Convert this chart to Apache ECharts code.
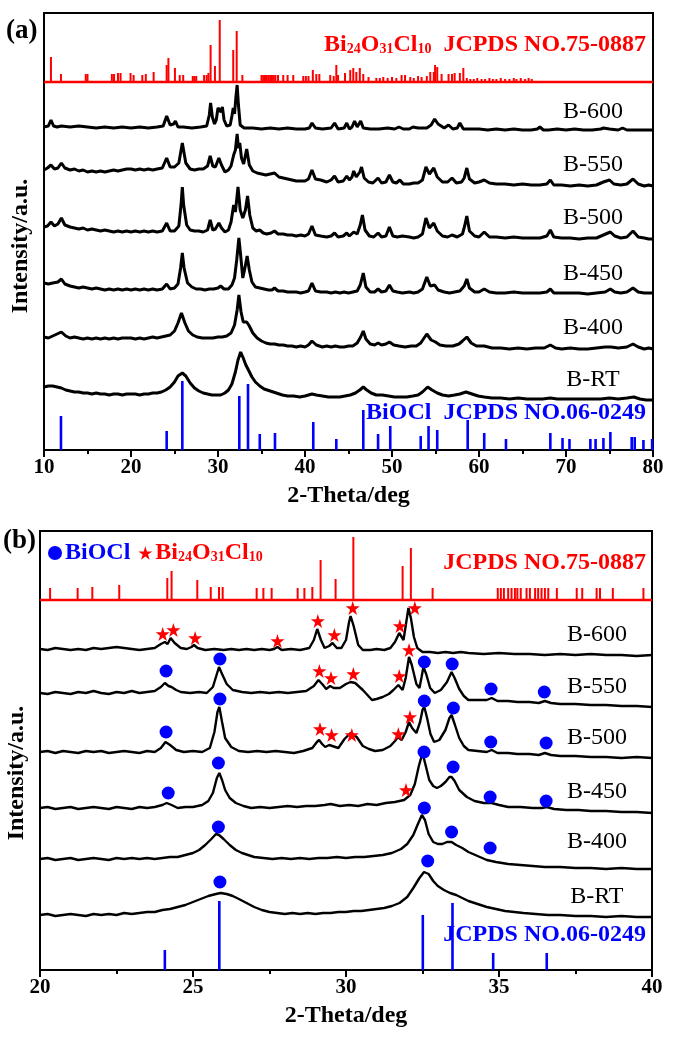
<!DOCTYPE html>
<html><head><meta charset="utf-8">
<script src="https://cdn.jsdelivr.net/npm/echarts@6/dist/echarts.min.js"></script>
<style>html,body{margin:0;padding:0;background:#fff}#c{width:675px;height:1039px}</style>
</head><body><div id="c"></div>
<script>
// ---------- Panel (a) : 2θ 10–80 ----------
const xTicksA = [10, 20, 30, 40, 50, 60, 70, 80];
const a600 = [[10,323],[10.5,324],[10.8,330],[11.1,324],[11.5,323],[12,324],[13,323],[14,324],[15,323],[16,322],[17,323],[18,322],[19,323],[20,322],[21,323],[22,322],[23,323],[23.7,324],[24.1,334],[24.5,325],[24.9,326],[25.1,329],[25.4,323],[26,323],[27,322],[28,323],[28.7,324],[29.0,335],[29.15,347],[29.35,333],[29.6,326],[29.8,330],[30.0,342],[30.2,343],[30.35,338],[30.5,343],[30.7,330],[31.0,324],[31.4,325],[31.6,334],[31.75,342],[31.9,336],[32.05,352],[32.2,365],[32.35,345],[32.55,325],[33,322],[34,322],[35,321],[36,322],[37,321],[38,322],[39,321],[40,321],[40.5,322],[40.8,327],[41.2,322],[42,321],[43,322],[43.4,327],[43.8,321],[44.5,322],[44.8,327],[45.1,321],[45.4,323],[45.7,329],[46.0,323],[46.4,329],[46.7,322],[47.5,321],[48.5,321],[49.5,322],[50.3,321],[50.8,323],[51.3,321],[52,321],[52.4,323],[53,322],[54,322],[54.5,325],[54.9,331],[55.3,326],[56,322],[56.5,325],[57,321],[57.5,322],[57.8,327],[58.2,321],[59,321],[60,321],[61,320],[62,321],[63,320],[64,321],[65,320],[66,320],[66.7,321],[67.0,323],[67.4,320],[68,320],[69,321],[70,320],[71,321],[72,320],[73,320],[74,321],[74.3,322],[75,321],[76,320],[76.5,322],[77,320],[78,320],[78.2,322],[78.6,320],[79,320],[80,320]];
const a550 = [[10,280],[10.4,282],[10.8,285],[11.2,281],[11.6,282],[12.0,287],[12.4,282],[13,280],[13.5,281],[14,279],[14.5,280],[15,278],[15.5,279],[16,278],[16.5,279],[17,278],[17.5,279],[18,280],[18.5,279],[19,280],[19.5,281],[20,281],[20.5,280],[21,281],[21.5,280],[22,281],[22.5,280],[23,281],[23.6,282],[24.1,292],[24.5,283],[25.0,283],[25.5,287],[25.9,307],[26.3,287],[26.8,281],[27.3,280],[27.8,281],[28.3,281],[28.8,284],[29.1,294],[29.4,284],[29.7,283],[30.1,292],[30.4,285],[30.8,278],[31.2,280],[31.5,284],[31.8,295],[32.0,300],[32.2,316],[32.35,302],[32.5,307],[32.7,292],[32.95,286],[33.3,301],[33.6,285],[34.0,279],[34.5,277],[35,276],[35.5,275],[36,276],[36.5,277],[37,273],[37.5,272],[38,271],[38.5,270],[39,269],[39.5,269],[40,269],[40.4,271],[40.8,280],[41.2,271],[41.8,270],[42.5,268],[43.0,270],[43.4,274],[43.8,268],[44.4,269],[44.8,274],[45.1,270],[45.4,273],[45.6,279],[45.9,273],[46.3,278],[46.5,283],[46.8,272],[47.3,268],[47.8,267],[48.4,272],[48.8,267],[49.3,268],[49.7,275],[50.1,268],[50.5,267],[50.9,270],[51.3,266],[52,266],[52.5,267],[53,267],[53.5,270],[53.9,283],[54.3,276],[54.8,282],[55.2,273],[55.8,268],[56.4,268],[56.9,272],[57.4,267],[58,268],[58.3,272],[58.6,282],[58.9,271],[59.5,267],[60,268],[60.6,270],[61.2,267],[62,266],[63,266],[64,265],[65,266],[66,265],[67,265],[67.8,266],[68.2,270],[68.6,265],[69.5,265],[70.5,264],[71.5,265],[72.5,264],[73.5,265],[74.3,268],[75.0,270],[75.5,266],[76.3,265],[77.0,266],[77.7,271],[78.3,266],[79,264],[79.5,265],[80,264]];
const a500 = [[10,223],[10.4,224],[10.8,228],[11.2,224],[11.6,226],[12.0,232],[12.4,225],[13,223],[13.5,222],[14,221],[14.5,222],[15,220],[15.5,221],[16,220],[16.5,219],[17,220],[17.5,219],[18,218],[18.5,219],[19,218],[19.5,219],[20,218],[20.5,219],[21,218],[21.5,219],[22,218],[22.5,219],[23,218],[23.6,219],[24.1,227],[24.5,219],[25.0,219],[25.5,224],[25.75,245],[25.9,263],[26.05,245],[26.4,225],[26.8,220],[27.3,219],[27.8,219],[28.3,218],[28.8,220],[29.1,230],[29.4,220],[29.7,221],[30.1,227],[30.4,222],[30.8,218],[31.2,220],[31.5,228],[31.8,245],[32.0,238],[32.3,263],[32.55,240],[32.85,232],[33.15,240],[33.4,254],[33.65,235],[34.0,222],[34.4,219],[34.8,220],[35.2,217],[35.6,216],[36.1,217],[36.5,219],[36.9,216],[37.5,216],[38,215],[38.5,215],[39,214],[39.5,215],[40,214],[40.4,216],[40.8,224],[41.2,215],[41.8,214],[42.5,213],[43.0,214],[43.4,217],[43.8,213],[44.4,214],[44.8,217],[45.1,214],[45.6,218],[46.0,216],[46.35,225],[46.6,235],[46.9,220],[47.4,214],[47.9,213],[48.4,217],[48.8,213],[49.3,214],[49.7,223],[50.1,214],[50.6,213],[51.2,214],[52,213],[52.5,212],[53,213],[53.5,216],[53.9,232],[54.3,222],[54.8,227],[55.2,219],[55.8,214],[56.4,213],[56.9,215],[57.5,213],[58.1,216],[58.35,224],[58.6,234],[58.9,219],[59.5,214],[60,213],[60.6,218],[61.2,213],[62,213],[63,212],[64,213],[65,212],[66,212],[67,212],[67.8,214],[68.2,220],[68.6,213],[69.5,212],[70.5,212],[71.5,211],[72.5,212],[73.5,212],[74.3,215],[75.1,218],[75.6,214],[76.3,212],[77.0,213],[77.7,219],[78.3,213],[79,212],[79.5,211],[80,211]];
const a450 = [[10,167],[10.5,166],[11,167],[11.6,168],[12.0,171],[12.4,166],[13,164],[13.5,163],[14,162],[14.5,163],[15,162],[15.5,161],[16,162],[16.5,161],[17,160],[17.5,161],[18,160],[18.5,161],[19,160],[19.5,161],[20,160],[20.5,161],[21,160],[21.5,161],[22,160],[22.5,161],[23,160],[23.6,161],[24.1,166],[24.5,161],[25.0,162],[25.4,166],[25.7,182],[25.9,197],[26.1,182],[26.5,167],[27,163],[27.5,161],[28,161],[28.5,160],[29,161],[29.5,161],[30.0,162],[30.3,164],[30.7,161],[31.2,161],[31.6,165],[31.9,172],[32.15,190],[32.4,212],[32.6,195],[32.85,172],[33.05,180],[33.35,194],[33.6,180],[33.9,168],[34.3,163],[34.8,162],[35.3,161],[35.8,160],[36.2,160],[36.5,162],[36.9,159],[37.5,159],[38,158],[38.5,158],[39,158],[39.5,157],[40,158],[40.4,159],[40.8,167],[41.2,159],[41.8,158],[42.5,158],[43.0,157],[43.5,158],[44,157],[44.5,158],[45,157],[45.5,158],[46.0,159],[46.35,165],[46.7,177],[47.0,163],[47.5,158],[48.0,158],[48.4,161],[48.8,158],[49.3,159],[49.7,165],[50.1,159],[50.6,158],[51.2,157],[52,158],[52.5,157],[53,158],[53.5,161],[54.0,173],[54.4,164],[54.9,165],[55.3,160],[56,158],[56.6,157],[57.2,158],[57.8,159],[58.3,164],[58.6,171],[58.9,162],[59.5,158],[60,158],[60.6,161],[61.2,158],[62,157],[63,157],[64,158],[65,157],[66,157],[67,157],[67.8,158],[68.2,161],[68.6,157],[69.5,157],[70.5,157],[71.5,157],[72.5,156],[73.5,157],[74.5,158],[75.1,161],[75.6,158],[76.3,157],[77.0,158],[77.7,162],[78.3,158],[79,157],[79.5,157],[80,157]];
const a400 = [[10,113],[10.5,112],[11,114],[11.5,116],[12.0,118],[12.5,114],[13,112],[13.5,113],[14,112],[14.5,111],[15,112],[15.5,111],[16,112],[16.5,111],[17,112],[17.5,111],[18,112],[18.5,111],[19,112],[19.5,112],[20,112],[20.5,111],[21,112],[21.5,111],[22,112],[22.5,113],[23,112],[23.5,113],[24,114],[24.5,115],[25.0,119],[25.4,127],[25.8,137],[26.2,127],[26.6,119],[27.1,115],[27.6,113],[28.2,112],[28.8,112],[29.4,112],[30,113],[30.5,113],[31,114],[31.5,117],[31.9,125],[32.2,140],[32.4,155],[32.65,138],[32.9,128],[33.3,128],[33.6,124],[34,117],[34.5,112],[35,109],[35.5,107],[36,106],[36.5,106],[37,105],[37.5,105],[38,104],[38.5,104],[39,103],[39.5,104],[40,103],[40.4,105],[40.8,109],[41.3,105],[42,103],[42.5,104],[43,103],[43.5,104],[44,103],[44.5,103],[45,104],[45.5,104],[46.0,107],[46.4,113],[46.7,119],[47.0,111],[47.5,106],[48.0,105],[48.4,107],[48.8,105],[49.3,106],[49.7,108],[50.2,105],[50.8,104],[51.5,103],[52.2,104],[52.8,104],[53.3,107],[54.0,116],[54.5,110],[55.0,108],[55.5,105],[56.2,104],[57,104],[57.7,106],[58.1,109],[58.6,113],[59.1,107],[59.7,104],[60.6,104],[61.5,102],[62.5,102],[63.5,101],[64.5,102],[65.5,101],[66.5,102],[67.5,102],[68.2,105],[68.8,102],[69.5,101],[70.5,102],[71.5,101],[72.5,101],[73.5,102],[74.5,103],[75.2,103],[76,102],[77,103],[77.7,106],[78.3,103],[79,101],[79.5,102],[80,101]];
const aRT = [[10,63],[10.5,64],[11,64],[11.5,63],[12,62],[12.5,60],[13,59],[13.5,58],[14,58],[14.5,57],[15,57],[15.5,56],[16,57],[16.5,56],[17,56],[17.5,55],[18,56],[18.5,56],[19,55],[19.5,56],[20,56],[20.5,56],[21,55],[21.5,56],[22,56],[22.5,57],[23,57],[23.5,58],[24,60],[24.5,63],[25.0,68],[25.4,74],[25.9,77],[26.3,74],[26.8,67],[27.3,62],[27.8,59],[28.3,57],[28.8,56],[29.3,55],[29.8,55],[30.3,55],[30.8,57],[31.2,60],[31.6,66],[32.0,78],[32.3,90],[32.6,98],[32.9,92],[33.2,85],[33.5,80],[33.9,73],[34.3,68],[34.8,64],[35.3,61],[36,59],[36.7,57],[37.4,55],[38,54],[38.7,54],[39.4,53],[40,54],[40.4,55],[40.8,56],[41.3,55],[42,54],[42.7,53],[43.4,53],[44,53],[44.6,54],[45.2,55],[45.8,57],[46.3,60],[46.7,63],[47.1,60],[47.6,57],[48.2,55],[48.9,55],[49.6,54],[50.3,53],[51,53],[51.7,53],[52.4,54],[53,55],[53.5,58],[54.1,63],[54.6,60],[55.2,57],[55.8,55],[56.5,54],[57.2,55],[57.8,56],[58.5,58],[59.2,56],[59.9,54],[60.6,53],[61.5,52],[62.5,52],[63.5,51],[64.5,52],[65.5,51],[66.5,51],[67.3,51],[68.2,52],[69,51],[70,51],[71,51],[72,51],[73,51],[74,51],[75,52],[76,51],[77,52],[77.8,53],[78.5,51],[79.2,50],[80,50]];
// reference patterns (2θ, relative intensity)
const refBaseA = 368;
const redA = [[10.8,25],[11.95,8],[14.8,8],[15.0,8],[17.8,8],[18.05,8],[18.5,9],[18.8,9],[19.95,9],[20.3,7],[21.3,7],[21.7,8],[22.6,10],[24.1,17],[24.3,24],[25.05,14],[25.6,7],[26.0,7],[27.1,6],[27.3,6],[27.5,6],[28.4,7],[28.7,7],[28.9,9],[29.15,37],[29.65,16],[30.2,62],[31.75,32],[32.15,51],[32.8,7],[35.0,7],[35.2,7],[35.4,7],[35.6,7],[35.8,7],[36.0,7],[36.2,7],[36.4,7],[36.6,7],[36.9,7],[37.5,7],[38.0,7],[38.65,7],[39.8,6],[40.1,6],[40.4,6],[40.9,12],[41.3,8],[41.65,8],[42.9,7],[43.3,6],[43.6,17],[43.8,7],[44.6,9],[45.2,12],[45.55,14],[45.9,10],[46.3,14],[46.7,8],[47.3,5],[48.2,4],[48.6,4],[49.0,5],[49.5,4],[50.0,5],[50.5,4],[51.1,7],[51.5,7],[52.1,5],[52.5,4],[53.0,6],[53.4,5],[54.0,6],[54.4,10],[54.8,10],[54.95,17],[55.2,15],[55.7,8],[56.5,8],[56.9,8],[57.2,9],[57.8,9],[58.2,14],[58.6,4],[59.0,3],[59.4,3],[59.8,4],[60.3,3],[60.7,3],[61.2,4],[61.6,3],[62.0,3],[62.5,4],[63.0,3],[63.5,3],[64.0,4],[64.3,3],[64.8,4],[65.3,3],[65.7,4],[66.06,3]];
const blueA = [[11.95,34],[24.1,19],[25.9,69],[32.45,54],[33.45,66],[34.8,16],[36.55,17],[40.95,28],[43.6,11],[46.7,40],[48.4,16],[49.8,24],[53.3,14],[54.2,24],[55.2,20],[58.7,30],[60.6,17],[63.1,11],[68.2,17],[69.6,12],[70.4,11],[72.8,11],[73.4,11],[74.3,12],[75.1,18],[77.55,13],[77.9,13],[78.9,10],[79.9,11]];
const sampleNames = ['B-600', 'B-550', 'B-500', 'B-450', 'B-400', 'B-RT'];
const labelPosA = [[73.1,338],[73.1,285],[73.1,232],[73.1,176],[73.1,122],[73.1,70]];

// ---------- Panel (b) : 2θ 20–40 ----------
const xTicksB = [20, 25, 30, 35, 40];
const b600 = [[20,321],[20.25,320],[20.5,322],[20.75,321],[21,320],[21.25,321],[21.5,320],[21.75,322],[22,321],[22.25,322],[22.5,323],[22.75,322],[23,321],[23.25,320],[23.5,321],[23.75,322],[23.95,326],[24.08,328],[24.17,326],[24.27,332],[24.4,327],[24.6,322],[24.8,321],[24.95,323],[25.03,325],[25.15,322],[25.4,320],[25.7,321],[26,320],[26.25,321],[26.5,320],[26.75,321],[27,320],[27.25,321],[27.5,320],[27.65,321],[27.76,323],[27.9,320],[28.2,321],[28.5,320],[28.8,322],[28.95,330],[29.06,341],[29.18,330],[29.3,322],[29.45,324],[29.56,327],[29.7,322],[29.85,322],[30.0,330],[30.1,348],[30.15,354],[30.25,344],[30.4,325],[30.55,320],[30.8,320],[31.0,321],[31.25,320],[31.45,322],[31.6,328],[31.74,337],[31.88,330],[31.97,348],[32.04,362],[32.12,352],[32.22,333],[32.33,322],[32.5,318],[32.75,318],[33,317],[33.25,318],[33.5,317],[33.75,318],[34,317],[34.5,316],[35,317],[35.5,316],[36,316],[36.5,315],[37,316],[37.5,315],[38,316],[38.5,315],[39,315],[39.5,314],[40,315]];
const b550 = [[20,277],[20.25,276],[20.5,278],[20.75,277],[21,276],[21.25,278],[21.5,277],[21.75,279],[22,277],[22.25,276],[22.5,278],[22.75,277],[23,279],[23.25,277],[23.5,278],[23.75,279],[23.95,283],[24.08,287],[24.2,284],[24.3,283],[24.45,280],[24.6,278],[24.9,277],[25.2,278],[25.45,277],[25.65,283],[25.78,296],[25.85,303],[25.95,296],[26.1,286],[26.3,280],[26.6,278],[26.9,277],[27.2,278],[27.5,277],[27.8,278],[28.1,277],[28.4,278],[28.7,279],[28.95,284],[29.1,290],[29.15,291],[29.25,285],[29.35,281],[29.48,284],[29.6,282],[29.8,282],[30.0,286],[30.15,288],[30.3,287],[30.55,280],[30.7,275],[30.85,270],[31.0,271],[31.2,273],[31.4,276],[31.55,280],[31.71,285],[31.85,280],[31.95,292],[32.06,313],[32.15,305],[32.3,286],[32.4,282],[32.47,293],[32.53,303],[32.62,296],[32.75,282],[32.9,277],[33.1,280],[33.3,288],[33.45,298],[33.55,292],[33.7,281],[33.85,274],[34.0,270],[34.3,270],[34.6,270],[34.76,272],[34.95,269],[35.3,269],[35.6,268],[36,268],[36.3,267],[36.5,269],[36.7,267],[37,266],[37.5,266],[38,265],[38.5,265],[39,264],[39.5,264],[40,263]];
const b500 = [[20,218],[20.25,219],[20.5,217],[20.75,219],[21,218],[21.25,217],[21.5,219],[21.75,218],[22,219],[22.25,217],[22.5,218],[22.75,219],[23,218],[23.25,217],[23.5,219],[23.75,218],[23.95,222],[24.1,228],[24.25,225],[24.45,220],[24.7,218],[25,219],[25.3,218],[25.55,222],[25.7,238],[25.8,258],[25.86,263],[25.95,248],[26.05,232],[26.25,223],[26.5,219],[26.8,218],[27.1,219],[27.4,218],[27.7,219],[28,218],[28.3,217],[28.6,219],[28.9,222],[29.05,228],[29.12,230],[29.22,226],[29.32,223],[29.45,225],[29.55,224],[29.75,222],[29.95,231],[30.15,237],[30.35,233],[30.55,224],[30.75,221],[30.95,219],[31.2,220],[31.45,224],[31.6,229],[31.7,233],[31.82,230],[31.95,238],[32.06,248],[32.16,242],[32.3,237],[32.42,248],[32.5,260],[32.56,263],[32.65,252],[32.76,236],[32.88,228],[33.05,230],[33.25,240],[33.38,252],[33.45,255],[33.55,246],[33.7,232],[33.85,224],[34.0,220],[34.3,219],[34.6,218],[34.76,220],[34.95,217],[35.3,217],[35.6,216],[36,216],[36.3,215],[36.5,217],[36.7,215],[37,214],[37.5,214],[38,213],[38.5,213],[39,212],[39.5,213],[40,212]];
const b450 = [[20,162],[20.25,163],[20.5,161],[20.75,162],[21,163],[21.25,161],[21.5,162],[21.75,163],[22,162],[22.25,161],[22.5,163],[22.75,162],[23,161],[23.25,163],[23.5,162],[23.75,163],[24.0,165],[24.14,167],[24.3,165],[24.5,162],[24.75,163],[25.0,163],[25.3,165],[25.5,169],[25.65,177],[25.78,192],[25.86,197],[25.95,190],[26.05,180],[26.2,172],[26.4,167],[26.65,164],[26.9,162],[27.2,163],[27.5,162],[27.8,163],[28.1,164],[28.4,163],[28.7,164],[29,164],[29.3,165],[29.5,166],[29.8,164],[30.1,165],[30.4,164],[30.7,166],[31,165],[31.3,167],[31.6,168],[31.9,170],[32.1,175],[32.25,186],[32.38,204],[32.5,217],[32.6,205],[32.72,190],[32.85,184],[32.97,182],[33.1,184],[33.25,188],[33.38,193],[33.45,193],[33.55,189],[33.7,180],[33.95,173],[34.2,169],[34.5,167],[34.76,167],[35.0,165],[35.3,163],[35.7,163],[36.1,162],[36.4,162],[36.56,163],[36.8,161],[37.2,160],[37.6,160],[38,159],[38.5,159],[39,158],[39.5,158],[40,157]];
const b400 = [[20,111],[20.25,112],[20.5,110],[20.75,111],[21,112],[21.25,110],[21.5,111],[21.75,112],[22,111],[22.25,110],[22.5,112],[22.75,111],[23,112],[23.25,111],[23.5,112],[23.75,111],[24,112],[24.25,113],[24.5,113],[24.75,115],[25.0,117],[25.2,120],[25.4,125],[25.6,131],[25.75,136],[25.85,135],[26.0,131],[26.2,125],[26.4,120],[26.6,117],[26.8,115],[27.0,113],[27.3,112],[27.6,111],[27.9,112],[28.2,111],[28.5,112],[28.8,111],[29.1,112],[29.4,112],[29.7,113],[30,112],[30.3,113],[30.6,113],[30.9,114],[31.2,115],[31.5,117],[31.8,121],[32.0,126],[32.2,135],[32.35,146],[32.48,155],[32.58,150],[32.7,136],[32.85,128],[33.0,126],[33.15,126],[33.3,128],[33.45,128],[33.6,125],[33.8,122],[34.0,118],[34.3,114],[34.6,110],[34.9,108],[35.3,106],[35.7,105],[36.1,104],[36.5,103],[37,103],[37.5,102],[38,102],[38.5,101],[39,102],[39.5,101],[40,101]];
const bRT = [[20,55],[20.25,56],[20.5,54],[20.75,55],[21,56],[21.25,55],[21.5,54],[21.75,56],[22,55],[22.25,56],[22.5,55],[22.75,57],[23,56],[23.25,57],[23.5,58],[23.75,58],[24,60],[24.25,61],[24.5,63],[24.75,65],[25,68],[25.25,71],[25.5,74],[25.75,76],[25.9,77],[26.1,76],[26.3,74],[26.5,71],[26.75,67],[27,63],[27.25,60],[27.5,58],[27.75,57],[28,56],[28.25,57],[28.5,56],[28.75,57],[29,56],[29.25,57],[29.5,57],[29.75,58],[30,58],[30.25,59],[30.5,59],[30.75,60],[31,61],[31.25,62],[31.5,64],[31.75,67],[32.0,73],[32.2,82],[32.4,92],[32.55,98],[32.7,96],[32.85,89],[33.0,84],[33.2,80],[33.4,77],[33.6,75],[33.8,72],[34.0,69],[34.3,66],[34.6,63],[34.9,61],[35.2,59],[35.5,58],[35.8,57],[36.2,56],[36.6,55],[37,55],[37.5,54],[38,54],[38.5,53],[39,54],[39.5,53],[40,53]];
const refBaseB = 370;
const redB = [[20.33,12],[21.23,12],[21.71,13],[22.59,15],[24.16,22],[24.30,29],[25.14,20],[25.58,13],[25.85,13],[25.97,13],[27.08,12],[27.30,12],[27.57,12],[28.42,12],[28.64,12],[28.90,13],[29.17,40],[29.66,21],[30.24,63],[31.85,34],[32.12,52],[32.83,12],[34.96,12],[35.06,12],[35.16,12],[35.30,12],[35.41,12],[35.52,12],[35.60,12],[35.71,12],[35.90,12],[36.01,12],[36.18,12],[36.28,12],[36.39,12],[36.50,12],[36.61,12],[36.89,12],[37.54,12],[37.72,12],[38.19,12],[38.30,12],[38.72,12],[39.72,12]];
const blueB = [[24.08,20],[25.86,69],[32.51,55],[33.48,67],[34.81,17],[36.56,17]];
const starsB = [[24.01,336],[24.36,340],[25.07,332],[27.76,329],[29.08,349],[29.62,335],[30.22,362],[31.76,344],[32.25,362],[29.13,299],[29.51,292],[30.24,296],[31.74,294],[32.06,320],[29.15,241],[29.53,235],[30.19,235],[31.71,236],[32.09,253],[31.96,180]];
const dotsB = [[24.12,299],[25.88,311],[32.56,308],[33.47,306],[34.74,281],[36.48,278],[24.12,238],[25.88,271],[32.56,269],[33.51,262],[34.73,228],[36.54,227],[24.19,177],[25.83,207],[32.55,218],[33.50,203],[34.71,173],[36.54,169],[25.83,143],[32.56,162],[33.45,138],[34.71,122],[25.88,88],[32.67,109]];
const labelPosB = [[38.2,335],[38.2,283],[38.2,232],[38.2,178],[38.2,128],[38.2,73]];

// ---------- build ----------
const SERIF = '"Liberation Serif","Times New Roman",serif';
const STAR = 'path://M50,0 L61.2,34.5 L97.6,34.5 L68.2,55.9 L79.4,90.5 L50,69.1 L20.6,90.5 L31.8,55.9 L2.4,34.5 L38.8,34.5 Z';
const RED = '#ff0000', BLUE = '#0000ff';
const rich = {
  r: {color: RED, fontFamily: SERIF, fontWeight: 'bold', fontSize: 24},
  rs: {color: RED, fontFamily: SERIF, fontWeight: 'bold', fontSize: 14, padding: [8, 0, 0, 0]},
  b: {color: BLUE, fontFamily: SERIF, fontWeight: 'bold', fontSize: 24},
  k: {color: '#000', fontFamily: SERIF, fontSize: 24}
};
function sticks(data, base, color, width, xi, yi) {
  return {type: 'custom', xAxisIndex: xi, yAxisIndex: yi, silent: true, z: 2,
    data: data,
    renderItem: function (params, api) {
      const x = api.value(0), h = api.value(1);
      const p0 = api.coord([x, base]), p1 = api.coord([x, base + h]);
      return {type: 'line', shape: {x1: p0[0], y1: p0[1], x2: p1[0], y2: p1[1]},
        style: {stroke: color, lineWidth: width}};
    }};
}
function curve(data, xi, w) {
  return {type: 'line', xAxisIndex: xi, yAxisIndex: xi, data: data, showSymbol: false,
    silent: true, z: 3, lineStyle: {color: '#000', width: w}};
}
function textAt(pos, fmt, align, xi) {
  return {type: 'scatter', xAxisIndex: xi, yAxisIndex: xi, symbolSize: 0, silent: true, z: 6,
    itemStyle: {opacity: 1},
    data: [pos], label: {show: true, position: 'inside', align: align, verticalAlign: 'middle',
      formatter: fmt, rich: rich, color: '#000', opacity: 1, textBorderWidth: 0, fontFamily: SERIF, fontSize: 24}};
}
function baseLine(min, max, base, xi) {
  return {type: 'line', xAxisIndex: xi, yAxisIndex: xi, data: [[min, base], [max, base]],
    showSymbol: false, silent: true, z: 2, lineStyle: {color: RED, width: 2.5}};
}
const series = [];
series.push(baseLine(10, 80, refBaseA, 0));
series.push(sticks(redA, refBaseA, RED, 2, 0, 0));
series.push(sticks(blueA, 0, BLUE, 2.6, 0, 0));
[a600, a550, a500, a450, a400, aRT].forEach(d => series.push(curve(d, 0, 3)));
sampleNames.forEach((n, i) => series.push(textAt(labelPosA[i], '{k|' + n + '}', 'center', 0)));
series.push(textAt([79.2, 405], '{r|Bi}{rs|24}{r|O}{rs|31}{r|Cl}{rs|10}{r|  JCPDS NO.75-0887}', 'right', 0));
series.push(textAt([79.2, 37], '{b|BiOCl  JCPDS NO.06-0249}', 'right', 0));

series.push(baseLine(20, 40, refBaseB, 1));
series.push(sticks(redB, refBaseB, RED, 2, 1, 1));
series.push(sticks(blueB, 0, BLUE, 2.6, 1, 1));
[b600, b550, b500, b450, b400, bRT].forEach(d => series.push(curve(d, 1, 2.4)));
sampleNames.forEach((n, i) => series.push(textAt(labelPosB[i], '{k|' + n + '}', 'center', 1)));
series.push(textAt([39.8, 407], '{r|JCPDS NO.75-0887}', 'right', 1));
series.push(textAt([39.8, 35], '{b|JCPDS NO.06-0249}', 'right', 1));
series.push({name: 'BiOCl', type: 'scatter', xAxisIndex: 1, yAxisIndex: 1, data: dotsB,
  symbol: 'circle', symbolSize: 13, itemStyle: {color: BLUE, opacity: 1}, z: 5, silent: true});
series.push({name: 'Bi24O31Cl10', type: 'scatter', xAxisIndex: 1, yAxisIndex: 1, data: starsB,
  symbol: STAR, symbolSize: 14, itemStyle: {color: RED, opacity: 1}, z: 5, silent: true});

function xAxis(min, max, interval, gi) {
  return {type: 'value', gridIndex: gi, min: min, max: max, interval: interval,
    name: '2-Theta/deg', nameLocation: 'middle', nameGap: 34,
    nameTextStyle: {fontFamily: SERIF, fontWeight: 'bold', fontSize: 24, color: '#000'},
    axisLine: {lineStyle: {color: '#000', width: 2}},
    axisTick: {inside: false, length: 7, lineStyle: {color: '#000', width: 2}},
    minorTick: {show: true, splitNumber: 2, length: 4, lineStyle: {color: '#000', width: 2}},
    axisLabel: {fontFamily: SERIF, fontWeight: 'bold', fontSize: 21, color: '#000', margin: 7},
    splitLine: {show: false}};
}
function yAxis(max, gi) {
  return {type: 'value', gridIndex: gi, min: 0, max: max,
    axisLine: {show: true, lineStyle: {color: '#000', width: 2}},
    axisTick: {show: false}, axisLabel: {show: false}, splitLine: {show: false}};
}
const chart = echarts.init(document.getElementById('c'), null, {renderer: 'canvas'});
chart.setOption({
  animation: false,
  backgroundColor: '#fff',
  grid: [
    {left: 44, top: 13, width: 609, height: 437, show: true, borderColor: '#000', borderWidth: 2, backgroundColor: 'transparent'},
    {left: 40, top: 531, width: 612, height: 439, show: true, borderColor: '#000', borderWidth: 2, backgroundColor: 'transparent'}
  ],
  xAxis: [xAxis(10, 80, 10, 0), xAxis(20, 40, 5, 1)],
  yAxis: [yAxis(437, 0), yAxis(439, 1)],
  legend: {left: 43, top: 536, itemWidth: 14, itemHeight: 14, itemGap: 8, selectedMode: false,
    data: [{name: 'BiOCl', icon: 'circle'}, {name: 'Bi24O31Cl10', icon: STAR}],
    formatter: function (n) { return n === 'BiOCl' ? '{b|BiOCl}' : '{r|Bi}{rs|24}{r|O}{rs|31}{r|Cl}{rs|10}'; },
    textStyle: {rich: rich, padding: [0, 0, 0, -2]}},
  graphic: [
    {type: 'text', left: 6, top: 18, style: {text: '(a)', font: 'bold 27px ' + SERIF, fill: '#000'}},
    {type: 'text', left: 3, top: 528, style: {text: '(b)', font: 'bold 27px ' + SERIF, fill: '#000'}},
    {type: 'text', x: 21, y: 246, rotation: Math.PI / 2, style: {text: 'Intensity/a.u.', font: 'bold 24px ' + SERIF, fill: '#000', textAlign: 'center', textVerticalAlign: 'middle'}},
    {type: 'text', x: 17, y: 773, rotation: Math.PI / 2, style: {text: 'Intensity/a.u.', font: 'bold 24px ' + SERIF, fill: '#000', textAlign: 'center', textVerticalAlign: 'middle'}}
  ],
  series: series
});
</script></body></html>
